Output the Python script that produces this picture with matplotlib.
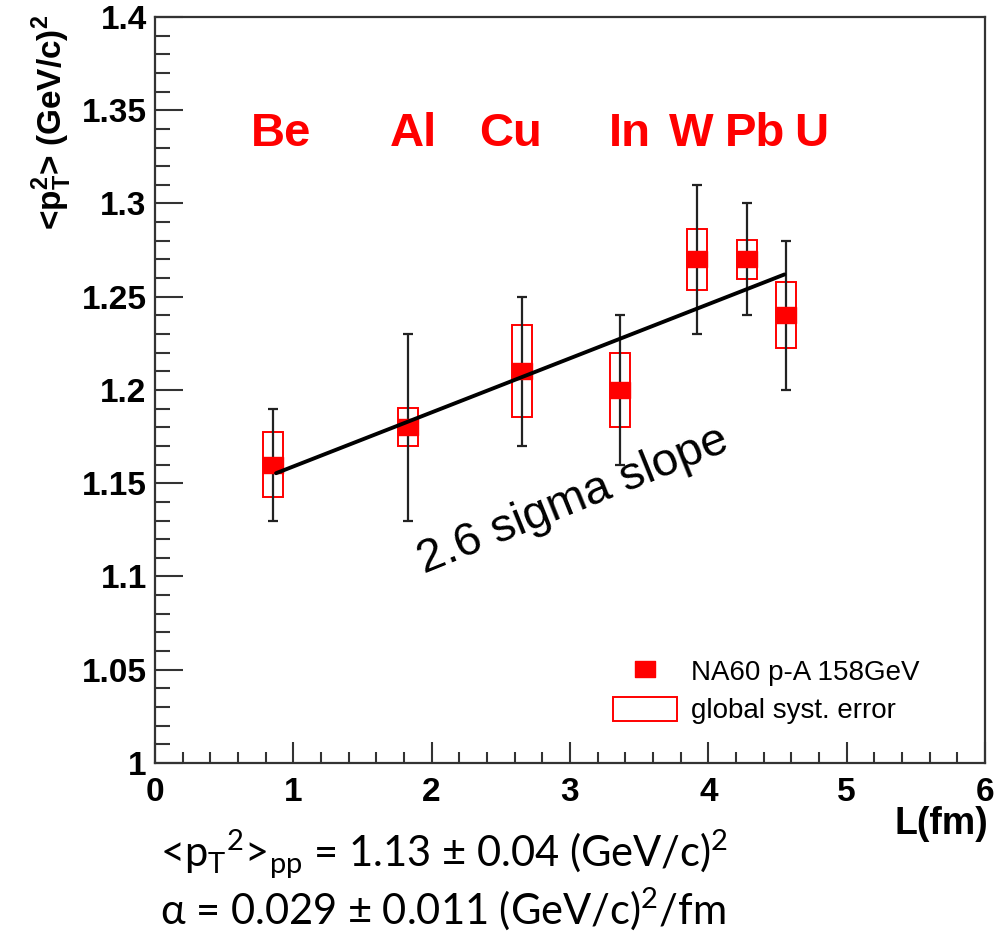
import matplotlib
matplotlib.use("Agg")
import matplotlib.pyplot as plt
from matplotlib.patches import Rectangle
from matplotlib.lines import Line2D
from matplotlib.path import Path
from matplotlib.ticker import MultipleLocator

# NA60 p-A 158 GeV: mean squared transverse momentum vs. nuclear path length
L_fm = [0.85, 1.83, 2.65, 3.36, 3.92, 4.28, 4.56]
pt2_mean = [1.16, 1.18, 1.21, 1.20, 1.27, 1.27, 1.24]
stat_err = [0.03, 0.05, 0.04, 0.04, 0.04, 0.03, 0.04]
syst_err = [0.0174, 0.0102, 0.0247, 0.020, 0.0164, 0.0105, 0.0177]
syst_halfwidth = 0.072

targets = ["Be", "Al", "Cu", "In", "W", "Pb", "U"]
target_label_x = [0.911, 1.866, 2.567, 3.435, 3.876, 4.338, 4.743]
target_label_y = 1.331

# linear fit <pT^2>(L) = <pT^2>_pp + alpha * L
pt2_pp = 1.13
pt2_pp_err = 0.04
alpha = 0.029
alpha_err = 0.011
fit_L = [0.875, 4.55]

x_ticks = [0, 1, 2, 3, 4, 5, 6]
x_tick_labels = ["0", "1", "2", "3", "4", "5", "6"]
y_ticks = [1.0, 1.05, 1.1, 1.15, 1.2, 1.25, 1.3, 1.35, 1.4]
y_tick_labels = ["1", "1.05", "1.1", "1.15", "1.2", "1.25", "1.3", "1.35", "1.4"]

RED = "#ff0000"
AXC = "#333333"
plt.rcParams["font.family"] = ["Liberation Sans", "DejaVu Sans"]

W, H = 1008, 932
fig = plt.figure(figsize=(W / 100, H / 100), dpi=100)
ax = fig.add_axes([155 / W, 1 - 763 / H, 830 / W, 746 / H])
ax.set_xlim(0, 6)
ax.set_ylim(1.0, 1.4)

# rectangular filled marker, slightly wider than tall
rect_marker = Path([(-1, -0.84), (1, -0.84), (1, 0.84), (-1, 0.84), (-1, -0.84)],
                   [Path.MOVETO, Path.LINETO, Path.LINETO, Path.LINETO, Path.CLOSEPOLY])

# systematic-error boxes
for x, y, s in zip(L_fm, pt2_mean, syst_err):
    ax.add_patch(Rectangle((x - syst_halfwidth, y - s), 2 * syst_halfwidth, 2 * s,
                           facecolor="none", edgecolor=RED, lw=1.4, zorder=2))

# statistical error bars
ax.errorbar(L_fm, pt2_mean, yerr=stat_err, fmt="none", ecolor="#222222",
            elinewidth=1.6, capsize=3.6, capthick=1.6, zorder=3)

# data points
ax.plot(L_fm, pt2_mean, ls="none", marker=rect_marker, ms=13.7,
        color=RED, mec=RED, zorder=4)

# fit line
fit_y = [pt2_pp + alpha * x for x in fit_L]
ax.plot(fit_L, fit_y, color="black", lw=2.8, solid_capstyle="round", zorder=5)

# target nuclei
for name, x in zip(targets, target_label_x):
    ax.text(x, target_label_y, name, color=RED, fontsize=34, fontweight="bold",
            ha="center", va="baseline", zorder=6)

ax.text(1.95, 1.1015, "2.6 sigma slope", fontsize=34, rotation=22,
        rotation_mode="anchor", ha="left", va="baseline", zorder=6)

# axes styling
ax.set_xticks(x_ticks, x_tick_labels, fontsize=24, fontweight="bold")
ax.set_yticks(y_ticks, y_tick_labels, fontsize=24, fontweight="bold")
ax.xaxis.set_minor_locator(MultipleLocator(0.2))
ax.yaxis.set_minor_locator(MultipleLocator(0.01))
ax.tick_params(axis="y", which="major", direction="in", length=20, width=1.5,
               color=AXC, pad=6)
ax.tick_params(axis="y", which="minor", direction="in", length=11, width=1.5, color=AXC)
ax.tick_params(axis="x", which="major", direction="in", length=15, width=1.5,
               color=AXC, pad=10)
ax.tick_params(axis="x", which="minor", direction="in", length=8, width=1.5, color=AXC)
for sp in ax.spines.values():
    sp.set_linewidth(1.6)
    sp.set_color(AXC)

# legend
handles = [
    Line2D([], [], ls="none", marker=rect_marker, ms=13.7, color=RED, mec=RED),
    Rectangle((0, 0), 1, 1, facecolor="none", edgecolor=RED, lw=1.4),
]
labels = ["NA60 p-A 158GeV", "global syst. error"]
ax.legend(handles, labels, loc="upper left", bbox_to_anchor=((613 - 155) / 830, (763 - 658) / 746),
          frameon=False, fontsize=20, handlelength=2.3, handleheight=0.95,
          handletextpad=0.5, labelspacing=0.4, borderpad=0, borderaxespad=0)

# axis titles
fig.text(52 / W, 1 - 15 / H,
         r"<p$_\mathregular{T}^\mathregular{2}$> (GeV/c)$^\mathregular{2}$",
         rotation=90, fontsize=24, fontweight="bold", ha="center", va="top")
fig.text(988 / W, 1 - 806 / H, "L(fm)", fontsize=27, fontweight="bold",
         ha="right", va="top")

# fit results
bottom_font = ["Lato", "DejaVu Sans"]
fig.text(160 / W, 1 - 867 / H,
         r"<p$_\mathregular{T}$$^\mathregular{2}$>$_\mathregular{pp}$"
         f" = {pt2_pp:.2f} \u00b1 {pt2_pp_err:.2f} (GeV/c)" r"$^\mathregular{2}$",
         fontsize=30, family=bottom_font, ha="left", va="baseline")
fig.text(160 / W, 1 - 925 / H,
         f"\u03b1 = {alpha:.3f} \u00b1 {alpha_err:.3f} (GeV/c)" r"$^\mathregular{2}$/fm",
         fontsize=30, family=bottom_font, ha="left", va="baseline")

fig.savefig("out.png", dpi=100)
